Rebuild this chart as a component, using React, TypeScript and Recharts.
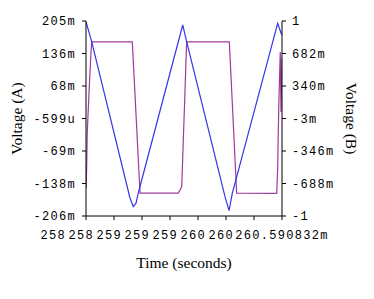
import React from 'react';
import { LineChart, Line, XAxis, YAxis } from 'recharts';

const blueTimes = [258.0, 258.075, 258.581, 258.625, 258.661, 258.691, 259.278, 259.33, 259.837, 259.89, 259.933, 260.533, 260.577, 260.59];
const blueValues = [0.2035, 0.1614, -0.168, -0.186, -0.179, -0.1575, 0.1966, 0.1614, -0.1653, -0.1948, -0.1582, 0.2002, 0.1797, 0.1755];

const purpleTimes = [258.0, 258.002, 258.009, 258.017, 258.04, 258.062, 258.075, 258.612, 258.714, 259.22, 259.265, 259.33, 259.894, 259.991, 260.52, 260.533, 260.541, 260.55, 260.567, 260.577, 260.59];
const purpleValues = [-0.493, -0.736, -0.493, -0.146, 0.276, 0.634, 0.803, 0.803, -0.789, -0.789, -0.722, 0.803, 0.803, -0.789, -0.792, -0.525, -0.146, 0.213, 0.697, 0.065, 0.634];

const xTicks = [258.0, 258.37, 258.74, 259.11, 259.48, 259.85, 260.22, 260.59];
const xTickLabels = ['258', '258', '259', '259', '259', '260', '260', '260.590832m'];

const leftTicks = [0.205, 0.1365, 0.068, -0.0005, -0.069, -0.1375, -0.206];
const leftTickLabels = ['205m', '136m', '68m', '-599u', '-69m', '-138m', '-206m'];

const rightTicks = [1.024, 0.6815, 0.339, -0.0035, -0.346, -0.6885, -1.031];
const rightTickLabels = ['1', '682m', '340m', '-3m', '-346m', '-688m', '-1'];

const blueData = blueTimes.map((t, i) => ({ t, a: blueValues[i] }));
const purpleData = purpleTimes.map((t, i) => ({ t, b: purpleValues[i] }));

const MONO = '"Liberation Mono", "DejaVu Sans Mono", monospace';
const SERIF = '"Liberation Serif", "DejaVu Serif", serif';

const XTick = (props: any) => {
  const { x, y, payload, index } = props;
  const last = index === xTicks.length - 1;
  return (
    <text
      x={last ? x : x - 20}
      y={y + 17}
      textAnchor={last ? 'middle' : 'end'}
      fontFamily={MONO}
      fontSize={12}
      letterSpacing={1.3}
      fill="#000"
    >
      {xTickLabels[index] ?? String(payload.value)}
    </text>
  );
};

const LeftTick = (props: any) => {
  const { x, y, index } = props;
  return (
    <text x={x} y={y + 4} textAnchor="end" fontFamily={MONO} fontSize={12} letterSpacing={1.3} fill="#000">
      {leftTickLabels[index]}
    </text>
  );
};

const RightTick = (props: any) => {
  const { x, y, index } = props;
  return (
    <text x={x} y={y + 4} textAnchor="start" fontFamily={MONO} fontSize={12} letterSpacing={1.3} fill="#000">
      {rightTickLabels[index]}
    </text>
  );
};

export default function App() {
  return (
    <div style={{ width: 358, height: 283, background: '#fff' }}>
      <LineChart width={358} height={283} margin={{ top: 13, right: 0, bottom: 25, left: 0 }}>
        <XAxis
          dataKey="t"
          type="number"
          domain={[258.0, 260.59]}
          ticks={xTicks}
          interval={0}
          tick={<XTick />}
          tickSize={4}
          stroke="#000"
          height={50}
          allowDataOverflow
          label={{ value: 'Time (seconds)', position: 'insideBottom', offset: 0, fontFamily: SERIF, fontSize: 15.5, fill: '#000', dy: 2 }}
        />
        <YAxis
          yAxisId="left"
          type="number"
          domain={[-0.206, 0.205]}
          ticks={leftTicks}
          interval={0}
          tick={<LeftTick />}
          tickSize={4}
          tickMargin={6}
          stroke="#000"
          width={78}
          allowDataOverflow
          label={{ value: 'Voltage (A)', angle: -90, position: 'insideLeft', offset: 0, fontFamily: SERIF, fontSize: 15.5, fill: '#000', dx: 8, style: { textAnchor: 'middle' } }}
        />
        <YAxis
          yAxisId="right"
          orientation="right"
          type="number"
          domain={[-1.031, 1.024]}
          ticks={rightTicks}
          interval={0}
          tick={<RightTick />}
          tickSize={4}
          tickMargin={6}
          stroke="#000"
          width={84}
          allowDataOverflow
          label={{ value: 'Voltage (B)', angle: 90, position: 'insideRight', offset: 0, fontFamily: SERIF, fontSize: 15.5, fill: '#000', dx: -15, style: { textAnchor: 'middle' } }}
        />
        <Line
          yAxisId="right"
          data={purpleData}
          dataKey="b"
          type="linear"
          stroke="#9c3c9c"
          strokeWidth={1.2}
          dot={false}
          isAnimationActive={false}
        />
        <Line
          yAxisId="left"
          data={blueData}
          dataKey="a"
          type="linear"
          stroke="#3535e8"
          strokeWidth={1.2}
          dot={false}
          isAnimationActive={false}
        />
      </LineChart>
    </div>
  );
}
